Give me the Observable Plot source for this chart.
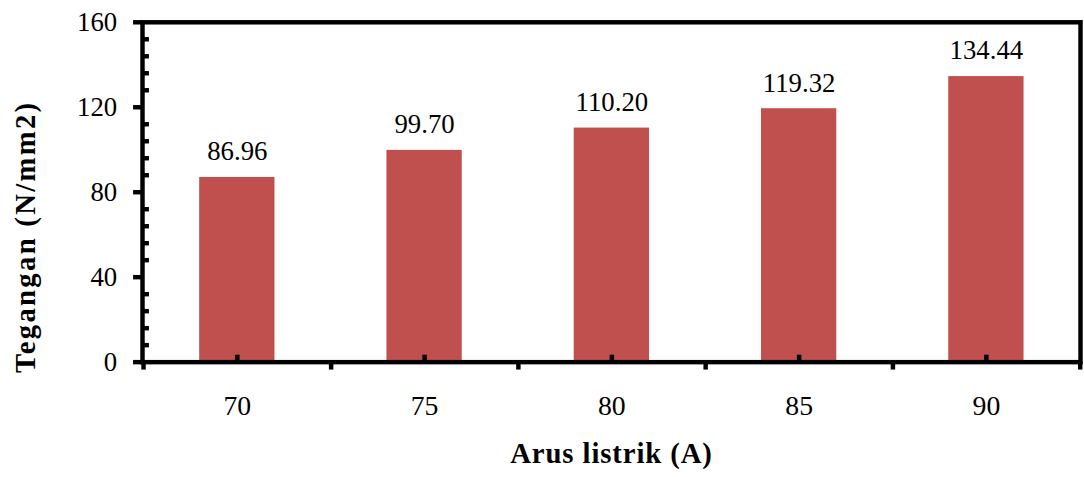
<!DOCTYPE html>
<html>
<head>
<meta charset="utf-8">
<script src="https://cdn.jsdelivr.net/npm/d3@7"></script>
<script src="https://cdn.jsdelivr.net/npm/@observablehq/plot@0.6"></script>
<style>
  html, body { margin: 0; padding: 0; background: #fff; overflow: hidden; }
</style>
</head>
<body>
<div id="chart"></div>
<script>
// Electric current (A) vs. tensile stress (N/mm2)
const categories = [70, 75, 80, 85, 90];
const values = [86.96, 99.70, 110.20, 119.32, 134.44];
const yMajorTicks = [0, 40, 80, 120, 160];
const yMinorTicks = [8, 16, 24, 32, 48, 56, 64, 72, 88, 96, 104, 112, 128, 136, 144, 152];
const xTitle = "Arus listrik (A)";
const yTitle = "Tegangan (N/mm2)";

const data = categories.map((arus, i) => ({arus, tegangan: values[i]}));
const fmt = d3.format(".2f");

const width = 1094, height = 477;
const marginLeft = 143.3, marginRight = 4, marginTop = 22, marginBottom = 112;
const step = (width - marginLeft - marginRight) / categories.length;
const font = "'Liberation Serif', 'Times New Roman', serif";
const lineW = 4.5;

const chart = Plot.plot({
  width, height, marginLeft, marginRight, marginTop, marginBottom,
  style: {fontFamily: font, fontSize: "28px", color: "black", background: "white", overflow: "visible"},
  x: {type: "band", domain: categories, paddingInner: 0.6, paddingOuter: 0.3, axis: null},
  y: {domain: [0, 160], axis: null},
  marks: [
    Plot.barY(data, {x: "arus", y: "tegangan", fill: "#C0504D"}),
    Plot.text(data, {x: "arus", y: "tegangan", text: d => fmt(d.tegangan), dy: -26, fontSize: 27, fill: "black"}),
    Plot.frame({stroke: "black", strokeWidth: lineW}),
    // y axis: outside major ticks with labels, inside minor ticks
    Plot.axisY(yMajorTicks, {anchor: "left", tickSize: 9, tickPadding: 16.5, strokeWidth: lineW, fontSize: 27, label: null}),
    Plot.axisY(yMinorTicks, {anchor: "left", tickSize: 7, dx: 7, strokeWidth: lineW, tickFormat: () => "", label: null}),
    // x axis: inside ticks at category centres, outside ticks at category boundaries
    Plot.axisX(categories, {anchor: "bottom", tickSize: 7, dy: -7, strokeWidth: lineW, tickFormat: () => "", label: null}),
    Plot.axisX(categories, {anchor: "bottom", tickSize: 8, dx: step / 2, strokeWidth: lineW, tickFormat: () => "", label: null}),
    Plot.axisX([categories[0]], {anchor: "bottom", tickSize: 8, dx: -step / 2, strokeWidth: lineW, tickFormat: () => "", label: null}),
    Plot.axisX(categories, {anchor: "bottom", tickSize: 0, tickPadding: 33, fontSize: 28, label: null}),
    // axis titles
    Plot.text([xTitle], {frameAnchor: "bottom", textAnchor: "middle", lineAnchor: "middle", dy: 92.5, fontWeight: "bold", fontSize: 29, fill: "black"}),
    Plot.text([yTitle], {frameAnchor: "left", textAnchor: "middle", lineAnchor: "middle", rotate: -90, dx: -117.5, dy: 45, fontWeight: "bold", fontSize: 29, fill: "black"})
  ]
});

d3.select(chart).selectAll("text")
  .filter(function() { return this.textContent === xTitle; })
  .style("letter-spacing", "0.9px");
d3.select(chart).selectAll("text")
  .filter(function() { return this.textContent === yTitle; })
  .style("letter-spacing", "2.3px");

document.getElementById("chart").append(chart);
</script>
</body>
</html>
